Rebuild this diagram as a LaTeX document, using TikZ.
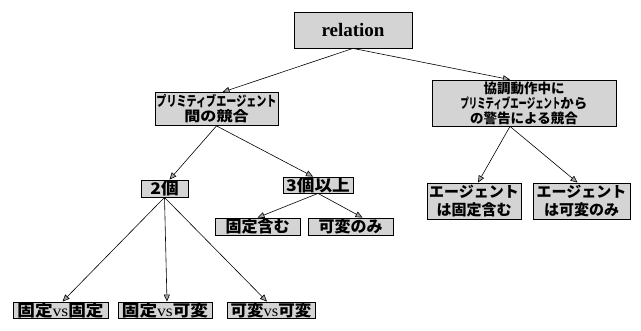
\documentclass[tikz,border=0pt]{standalone}
\usepackage{graphicx}
\usepackage{fontspec}
\setmainfont{Liberation Serif}
\newfontfamily\jp{Noto Sans CJK JP}
\usetikzlibrary{arrows.meta,calc}
\newcommand{\hsq}[2]{\scalebox{#1}[1]{#2}}
\tikzset{
  box/.style={draw=black, line width=0.8pt, fill=black!17, inner sep=0pt, align=center, text=black},
  arr/.style={line width=0.6pt, -{Triangle[open, length=7pt, width=6pt, fill=black!35]}}
}
\begin{document}
\begin{tikzpicture}[x=1pt,y=-1pt]
\useasboundingbox (0,0) rectangle (641,330);
\node[box, minimum width=118pt, minimum height=36pt, font=\bfseries\fontsize{19}{20}\selectfont] (rel) at (353,30) {relation};
\node[box, minimum width=123pt, minimum height=33pt, font=\jp\bfseries\fontsize{14}{15}\selectfont] (prim) at (216.5,109) {\hsq{0.72}{プリミティブエージェント}\\\hsq{1.15}{間の競合}};
\node[box, minimum width=184pt, minimum height=46pt, font=\jp\bfseries\fontsize{13.5}{15}\selectfont] (coop) at (524,103) {協調動作中に\\\hsq{0.62}{プリミティブエージェント}から\\の警告による競合};
\node[box, minimum width=47pt, minimum height=17pt, font=\jp\bfseries\fontsize{16}{16}\selectfont] (two) at (164.5,188.5) {\hsq{1.1}{2個}};
\node[box, minimum width=70pt, minimum height=16pt, font=\jp\bfseries\fontsize{16}{16}\selectfont] (three) at (318,185) {\hsq{1.1}{3個以上}};
\node[box, minimum width=85pt, minimum height=17pt, font=\jp\bfseries\fontsize{16}{16}\selectfont] (fixinc) at (257.5,226.5) {固定含む};
\node[box, minimum width=85pt, minimum height=17pt, font=\jp\bfseries\fontsize{16}{16}\selectfont] (varonly) at (350.5,226.5) {可変のみ};
\node[box, minimum width=94pt, minimum height=36pt, font=\jp\bfseries\fontsize{15}{18}\selectfont] (agfix) at (474,201) {エージェント\\は固定含む};
\node[box, minimum width=97pt, minimum height=36pt, font=\jp\bfseries\fontsize{15}{18}\selectfont] (agvar) at (581.5,201) {エージェント\\は可変のみ};
\node[box, minimum width=95pt, minimum height=16pt, font=\jp\bfseries\fontsize{16}{16}\selectfont] (ff) at (60.5,310) {\hsq{1.1}{固定{\rmfamily\mdseries vs}固定}};
\node[box, minimum width=94pt, minimum height=16pt, font=\jp\bfseries\fontsize{16}{16}\selectfont] (fv) at (165,310) {\hsq{1.1}{固定{\rmfamily\mdseries vs}可変}};
\node[box, minimum width=88pt, minimum height=16pt, font=\jp\bfseries\fontsize{16}{16}\selectfont] (vv) at (271,310) {\hsq{1.03}{可変{\rmfamily\mdseries vs}可変}};

\coordinate (coopout) at ($(coop.south)+(-14,0)$);
\draw[arr] (rel.south) -- ($(prim.north)+(6,0)$);
\draw[arr] (rel.south) -- ($(coop.north)+(-14,0)$);
\draw[arr] (prim.south) -- ($(two.north)+(5,0)$);
\draw[arr] (prim.south) -- ($(three.north)+(-5,0)$);
\draw[arr] (two.south) -- ($(ff.north)+(2,0)$);
\draw[arr] (two.south) -- ($(fv.north)+(2,0)$);
\draw[arr] (two.south) -- ($(vv.north)+(-4,0)$);
\draw[arr] (three.south) -- (fixinc.north);
\draw[arr] (three.south) -- ($(varonly.north)+(12,0)$);
\draw[arr] (coopout) -- ($(agfix.north)+(4,0)$);
\draw[arr] (coopout) -- ($(agvar.north)+(-4,0)$);
\end{tikzpicture}
\end{document}
